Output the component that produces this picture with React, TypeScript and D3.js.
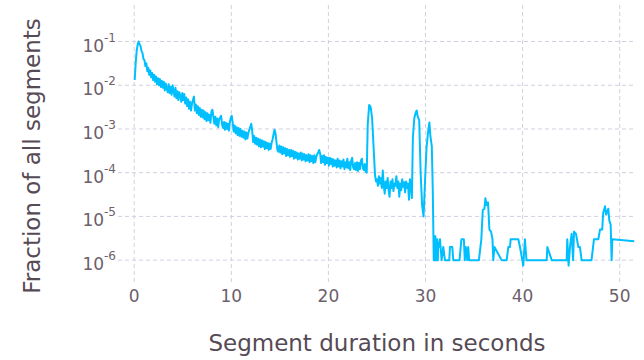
import { useEffect, useRef } from 'react';
import * as d3 from 'd3';

// regular bins 0.05, 0.15, ... 23.95 s, log10 of fraction
const binStart = 0.05;
const binWidth = 0.1;
const decayExponents = [
  -1.88, -1.5, -1.22, -1.08, -1.0, -1.06, -1.1, -1.22, -1.26, -1.4,
  -1.42, -1.56, -1.5, -1.68, -1.6, -1.76, -1.66, -1.82, -1.72, -1.88,
  -1.76, -1.92, -1.8, -1.98, -1.84, -2.0, -1.86, -2.04, -1.9, -2.06,
  -1.92, -2.12, -1.96, -2.08, -2.16, -1.98, -2.18, -2.04, -2.22, -2.0,
  -2.12, -2.26, -2.06, -2.3, -2.14, -2.34, -2.16, -2.24, -2.38, -2.18,
  -2.34, -2.2, -2.42, -2.28, -2.48, -2.32, -2.54, -2.38, -2.58, -2.42,
  -2.34, -2.26, -2.58, -2.44, -2.64, -2.48, -2.68, -2.52, -2.72, -2.56,
  -2.74, -2.58, -2.78, -2.62, -2.82, -2.64, -2.8, -2.68, -2.86, -2.6,
  -2.56, -2.72, -2.88, -2.72, -2.92, -2.76, -2.96, -2.78, -2.74, -2.7,
  -2.9, -2.98, -2.84, -3.02, -2.86, -3.0, -2.88, -3.04, -2.84, -2.74,
  -2.7, -2.88, -3.06, -2.92, -3.1, -2.96, -3.14, -2.98, -3.16, -3.0,
  -3.18, -3.04, -3.2, -3.06, -3.24, -3.08, -3.22, -3.1, -3.02, -2.96,
  -2.88, -3.04, -3.3, -3.16, -3.34, -3.2, -3.36, -3.22, -3.4, -3.24,
  -3.42, -3.26, -3.4, -3.28, -3.46, -3.3, -3.44, -3.32, -3.48, -3.34,
  -3.46, -3.32, -3.24, -3.12, -3.02, -3.1, -3.3, -3.48, -3.52, -3.38,
  -3.54, -3.4, -3.58, -3.42, -3.56, -3.44, -3.62, -3.46, -3.6, -3.48,
  -3.64, -3.48, -3.62, -3.5, -3.68, -3.52, -3.66, -3.54, -3.7, -3.56,
  -3.68, -3.54, -3.72, -3.56, -3.7, -3.58, -3.74, -3.6, -3.72, -3.58,
  -3.76, -3.6, -3.74, -3.62, -3.78, -3.6, -3.76, -3.64, -3.58, -3.54,
  -3.48, -3.56, -3.78, -3.62, -3.76, -3.6, -3.82, -3.64, -3.78, -3.66,
  -3.84, -3.66, -3.8, -3.68, -3.86, -3.7, -3.84, -3.72, -3.88, -3.68,
  -3.86, -3.72, -3.9, -3.74, -3.86, -3.7, -3.92, -3.76, -3.88, -3.68,
  -3.9, -3.76, -3.94, -3.72, -3.66, -3.88, -3.92, -3.78, -3.94, -3.76,
  -3.96, -3.78, -3.92, -3.72, -3.68, -3.9, -3.94, -3.8, -3.98, -4.0
];

// the two bumps around 24 s and 29-30 s
const peakDurations = [
  24.05, 24.2, 24.35, 24.5, 24.65, 24.8, 24.9,
  25.0, 25.1, 25.2, 25.3, 25.4, 25.5, 25.6, 25.7, 25.8, 25.9,
  26.0, 26.1, 26.2, 26.3, 26.4, 26.5, 26.6, 26.7, 26.8, 26.9,
  27.0, 27.1, 27.2, 27.3, 27.4, 27.5, 27.6, 27.7, 27.8, 27.9,
  28.0, 28.1, 28.2, 28.3, 28.4, 28.5, 28.6,
  28.7, 28.85, 29.0, 29.1, 29.2, 29.35, 29.5, 29.65, 29.8, 29.95,
  30.1, 30.25, 30.4, 30.5, 30.65, 30.75, 30.85
];
const peakExponents = [
  -2.9, -2.45, -2.5, -2.75, -3.4, -4.05, -4.2,
  -4.15, -4.3, -4.08, -4.25, -4.12, -4.35, -3.95, -4.3, -4.48, -4.2,
  -4.35, -4.12, -4.4, -4.55, -4.2, -4.35, -4.15, -4.42, -4.25, -4.3,
  -4.08, -4.35, -4.2, -4.55, -4.25, -4.4, -4.15, -4.32, -4.22, -4.45,
  -4.2, -4.35, -4.25, -4.62, -4.15, -4.3, -4.58,
  -3.2, -2.75, -2.62, -2.58, -2.72, -2.8, -4.0, -4.75, -5.0, -4.2,
  -3.45, -3.1, -2.85, -3.15, -3.4, -4.4, -6.0
];

// sparse tail, fraction in millionths
const tailDurations = [
  30.92, 30.97, 31.02, 31.07, 31.12, 31.17, 31.22, 31.27, 31.32, 31.4,
  31.49, 31.66, 31.83, 32.0, 32.45, 32.52, 32.76, 32.86, 33.5, 33.7,
  33.95, 34.05, 34.15, 34.3, 34.4, 34.5, 35.5, 35.75, 35.9, 36.07,
  36.17, 36.3, 36.44, 36.58, 36.75, 36.9, 36.98, 37.1, 37.84, 38.36,
  38.53, 38.7, 38.77, 39.56, 39.73, 40.07, 40.24, 40.4, 42.48, 42.55,
  43.0, 44.54, 44.6, 44.74, 44.88, 45.05, 45.2, 45.3, 45.5, 45.74,
  45.9, 46.08, 47.1, 47.35, 47.8, 47.97, 48.2, 48.3, 48.49, 48.6,
  48.83, 48.93, 49.07, 49.17, 49.24, 51.5
];
const tailMillionths = [
  3.5, 1, 3.5, 1, 3, 1, 3, 1, 2.5, 2,
  3, 1, 2, 1, 1, 2, 2, 1, 1, 3,
  3, 1, 2, 1, 2, 1, 1, 3, 14, 15,
  26, 18, 21, 5, 4.5, 3, 1, 2, 1, 1,
  2, 2, 3, 3, 2, 0.75, 3, 1, 1, 2,
  1, 1, 3, 0.75, 2, 4, 1, 4.5, 4, 2,
  2, 1, 1, 3, 3, 5, 5, 12, 17, 11,
  15, 8, 6.5, 1, 3, 2.7
];

const xTickValues = [0, 10, 20, 30, 40, 50];
const yTickExponents = [-1, -2, -3, -4, -5, -6];

export default function App() {
  const svgRef = useRef<SVGSVGElement>(null);

  useEffect(() => {
    const svg = d3.select(svgRef.current);
    svg.selectAll('*').remove();

    const plot = { left: 118, right: 636, top: 5, bottom: 282 };
    const font = "'DejaVu Sans', sans-serif";

    const x = d3.scaleLinear().domain([-1.67, 51.68]).range([plot.left, plot.right]);
    const y = d3.scaleLog().domain([10 ** -6.5, 10 ** -0.165]).range([plot.bottom, plot.top]);

    const points: [number, number][] = [
      ...decayExponents.map((e, i) => [binStart + i * binWidth, 10 ** e] as [number, number]),
      ...peakDurations.map((d, i) => [d, 10 ** peakExponents[i]] as [number, number]),
      ...tailDurations.map((d, i) => [d, tailMillionths[i] * 1e-6] as [number, number])
    ];

    // grid
    svg.append('g')
      .selectAll('line')
      .data(yTickExponents)
      .join('line')
      .attr('x1', plot.left)
      .attr('x2', plot.right)
      .attr('y1', d => y(10 ** d))
      .attr('y2', d => y(10 ** d))
      .attr('stroke', '#d0d0e0')
      .attr('stroke-width', 1)
      .attr('stroke-dasharray', '4,3');

    svg.append('g')
      .selectAll('line')
      .data(xTickValues)
      .join('line')
      .attr('x1', d => x(d))
      .attr('x2', d => x(d))
      .attr('y1', plot.top)
      .attr('y2', plot.bottom)
      .attr('stroke', '#d0d0e0')
      .attr('stroke-width', 1)
      .attr('stroke-dasharray', '4,3');

    // tick labels
    svg.append('g')
      .selectAll('text')
      .data(xTickValues)
      .join('text')
      .attr('x', d => x(d))
      .attr('y', 302)
      .attr('text-anchor', 'middle')
      .style('font-family', font)
      .style('font-size', '17px')
      .attr('fill', '#6c606b')
      .text(d => d);

    const yLabels = svg.append('g')
      .selectAll('text')
      .data(yTickExponents)
      .join('text')
      .attr('x', 116)
      .attr('y', d => y(10 ** d) + 10)
      .attr('text-anchor', 'end')
      .style('font-family', font)
      .attr('fill', '#6c606b');
    yLabels.append('tspan').style('font-size', '17px').text('10');
    yLabels.append('tspan')
      .attr('dy', -10)
      .style('font-size', '12px')
      .text(d => `${d}`);

    // line
    svg.append('clipPath')
      .attr('id', 'plot-clip')
      .append('rect')
      .attr('x', plot.left)
      .attr('y', plot.top)
      .attr('width', plot.right - plot.left)
      .attr('height', plot.bottom - plot.top);

    const line = d3.line<[number, number]>()
      .x(d => x(d[0]))
      .y(d => y(d[1]));

    svg.append('path')
      .datum(points)
      .attr('clip-path', 'url(#plot-clip)')
      .attr('fill', 'none')
      .attr('stroke', '#00bfff')
      .attr('stroke-width', 2)
      .attr('stroke-linejoin', 'round')
      .attr('d', line);

    // axis titles
    svg.append('text')
      .attr('x', 377)
      .attr('y', 351)
      .attr('text-anchor', 'middle')
      .style('font-family', font)
      .style('font-size', '23px')
      .attr('fill', '#564a55')
      .text('Segment duration in seconds');

    svg.append('text')
      .attr('transform', 'translate(40,156) rotate(-90)')
      .attr('text-anchor', 'middle')
      .style('font-family', font)
      .style('font-size', '23px')
      .attr('fill', '#564a55')
      .text('Fraction of all segments');
  }, []);

  return (
    <svg
      ref={svgRef}
      width={644}
      height={360}
      style={{ position: 'absolute', left: 0, top: 0, background: '#fff' }}
    />
  );
}
